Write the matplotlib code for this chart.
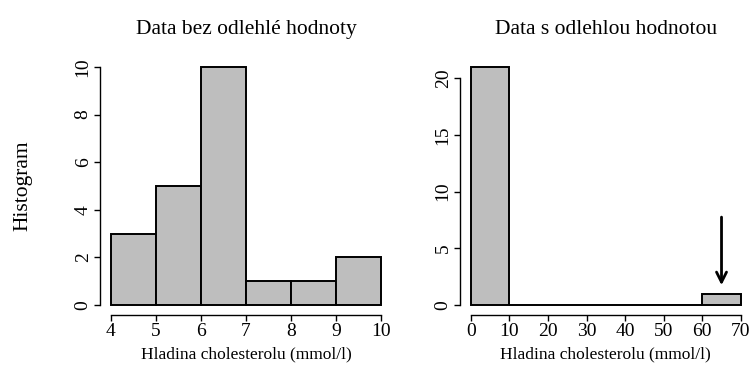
import matplotlib
matplotlib.use("Agg")
import matplotlib.pyplot as plt
import numpy as np

plt.rcParams['font.family'] = ['Liberation Serif', 'DejaVu Serif']

# Left histogram (without outlier)
left_edges = [4, 5, 6, 7, 8, 9, 10]
left_counts = [3, 5, 10, 1, 1, 2]
left_xticks = [4, 5, 6, 7, 8, 9, 10]
left_yticks = [0, 2, 4, 6, 8, 10]

# Right histogram (with outlier)
right_edges = [0, 10, 20, 30, 40, 50, 60, 70]
right_counts = [21, 0, 0, 0, 0, 0, 1]
right_xticks = [0, 10, 20, 30, 40, 50, 60, 70]
right_yticks = [0, 5, 10, 15, 20]

titles = ["Data bez odlehlé hodnoty", "Data s odlehlou hodnotou"]
xlabel = "Hladina cholesterolu (mmol/l)"
ylabel = "Histogram"
outlier_x = 65
arrow_from, arrow_to = 8, 1.5

fig = plt.figure(figsize=(7.51, 3.65), dpi=100)
axL = fig.add_axes([100/751, 1-314.5/365, 292/751, 257/365])
axR = fig.add_axes([460/751, 1-314.5/365, 291.6/751, 257/365])

def draw(ax, edges, counts, xticks, yticks, title):
    edges = np.array(edges, dtype=float)
    widths = np.diff(edges)
    ax.bar(edges[:-1], counts, width=widths, align='edge', color='#bebebe',
           edgecolor='black', linewidth=1.4)
    x0, x1 = edges[0], edges[-1]
    ymax = max(counts)
    pad_x = 0.04*(x1-x0)
    ax.set_xlim(x0-pad_x, x1+pad_x)
    ax.set_ylim(-0.04*ymax, ymax*1.04)
    for s in ['top', 'right']:
        ax.spines[s].set_visible(False)
    ax.spines['bottom'].set_bounds(xticks[0], xticks[-1])
    ax.spines['left'].set_bounds(yticks[0], yticks[-1])
    for s in ['bottom', 'left']:
        ax.spines[s].set_linewidth(1.0)
    ax.set_xticks(xticks)
    ax.set_yticks(yticks)
    ax.set_yticklabels([str(t) for t in yticks], rotation=90, va='center')
    ax.tick_params(direction='out', length=4.5, width=1.0, labelsize=14, pad=1.5)
    ax.set_xlabel(xlabel, fontsize=12.5, labelpad=5)
    ax.set_title(title, fontsize=15.5, pad=17)

draw(axL, left_edges, left_counts, left_xticks, left_yticks, titles[0])
draw(axR, right_edges, right_counts, right_xticks, right_yticks, titles[1])

axL.set_ylabel(ylabel, fontsize=15.5)
axL.yaxis.set_label_coords(-68/292, 0.5)

axR.annotate('', xy=(outlier_x, arrow_to), xytext=(outlier_x, arrow_from),
             arrowprops=dict(arrowstyle='->', lw=2, color='black', mutation_scale=18))

fig.savefig('out.png', dpi=100)
